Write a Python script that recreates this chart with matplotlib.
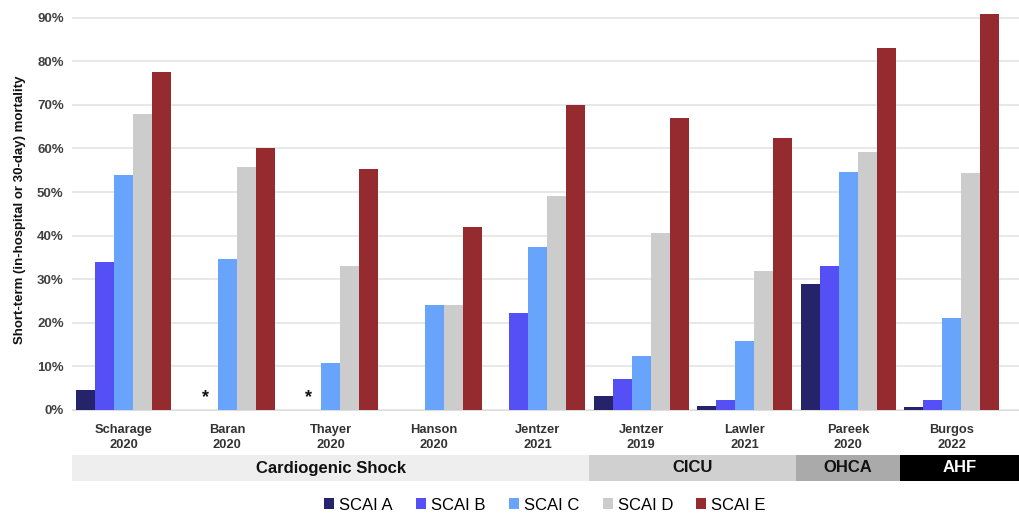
import matplotlib
matplotlib.use("Agg")
import matplotlib.pyplot as plt
import numpy as np

plt.rcParams['font.family'] = ['Liberation Sans', 'DejaVu Sans']

studies = ["Scharage\n2020", "Baran\n2020", "Thayer\n2020", "Hanson\n2020", "Jentzer\n2021",
           "Jentzer\n2019", "Lawler\n2021", "Pareek\n2020", "Burgos\n2022"]
series_names = ["SCAI A", "SCAI B", "SCAI C", "SCAI D", "SCAI E"]
scai_a = [4.5, np.nan, np.nan, np.nan, np.nan, 3.1, 0.9, 29.0, 0.7]
scai_b = [34.0, np.nan, np.nan, np.nan, 22.2, 7.2, 2.2, 33.0, 2.2]
scai_c = [54.0, 34.6, 10.7, 24.2, 37.5, 12.5, 15.8, 54.6, 21.2]
scai_d = [68.0, 55.8, 33.0, 24.0, 49.2, 40.5, 32.0, 59.3, 54.3]
scai_e = [77.5, 60.0, 55.2, 42.0, 70.0, 67.0, 62.5, 83.0, 90.8]
starred = [1, 2]  # studies marked with '*'
groups = ["Cardiogenic Shock", "CICU", "OHCA", "AHF"]
group_spans = [(0, 4), (5, 6), (7, 7), (8, 8)]
yticks = [0, 10, 20, 30, 40, 50, 60, 70, 80, 90]

colors = ["#25246a", "#5450f6", "#68a4fb", "#cccccc", "#952b2e"]
band_colors = ["#eeeeee", "#d0d0d0", "#aaaaaa", "#000000"]
band_text = ["#111111", "#111111", "#111111", "#ffffff"]

W, H = 1019, 515
fig = plt.figure(figsize=(W / 100, H / 100), dpi=100)
x0, x1 = -0.5, 8.65
ax = fig.add_axes([72 / W, 1 - 410 / H, 1 - 72 / W, (410 - 9) / H])

x = np.arange(len(studies))
bw = 0.184
data = [scai_a, scai_b, scai_c, scai_d, scai_e]
for i, (vals, c, name) in enumerate(zip(data, colors, series_names)):
    ax.bar(x + (i - 2) * bw, np.nan_to_num(vals), width=bw, color=c, label=name, zorder=3)

for s in starred:
    ax.text(x[s] - 1.15 * bw, 1.0, "*", ha="center", va="bottom", fontsize=13,
            fontweight="bold", color="#111111")

ax.set_xlim(x0, x1)
ax.set_ylim(0, 92)
ax.set_yticks(yticks)
ax.set_yticklabels([f"{t}%" for t in yticks], fontsize=9.5, fontweight="bold", color="#404040")
ax.set_xticks(x)
ax.set_xticklabels(studies, fontsize=9.3, fontweight="bold", color="#333333", linespacing=1.35)
ax.tick_params(axis="both", length=0)
ax.tick_params(axis="x", pad=10)
ax.tick_params(axis="y", pad=6)
ax.grid(axis="y", color="#e4e4e4", linewidth=1.2, zorder=0)
for sp in ["top", "right", "left"]:
    ax.spines[sp].set_visible(False)
ax.spines["bottom"].set_color("#dddddd")
ax.set_ylabel("Short-term (in-hospital or 30-day) mortality", fontsize=9.5,
              fontweight="bold", color="#111111", labelpad=8)

# category band
bax = fig.add_axes([72 / W, 1 - 481 / H, 1 - 72 / W, 26 / H])
bax.set_xlim(x0, x1)
bax.set_ylim(0, 1)
bax.axis("off")
for gi, (g, (a, b)) in enumerate(zip(groups, group_spans)):
    left = a - 0.5 if a > 0 else x0
    right = b + 0.5 if b < len(studies) - 1 else x1
    bax.axvspan(left, right, color=band_colors[gi], lw=0)
    bax.text((left + right) / 2, 0.5, g, ha="center", va="center", fontsize=12,
             fontweight="bold", color=band_text[gi])

handles, labels = ax.get_legend_handles_labels()
fig.legend(handles, labels, loc="center", bbox_to_anchor=(545 / W, 1 - 505 / H), ncol=5,
           frameon=False, fontsize=12, handlelength=0.6, handleheight=0.6,
           handletextpad=0.3, columnspacing=1.4)

fig.savefig("out.png", dpi=100)
